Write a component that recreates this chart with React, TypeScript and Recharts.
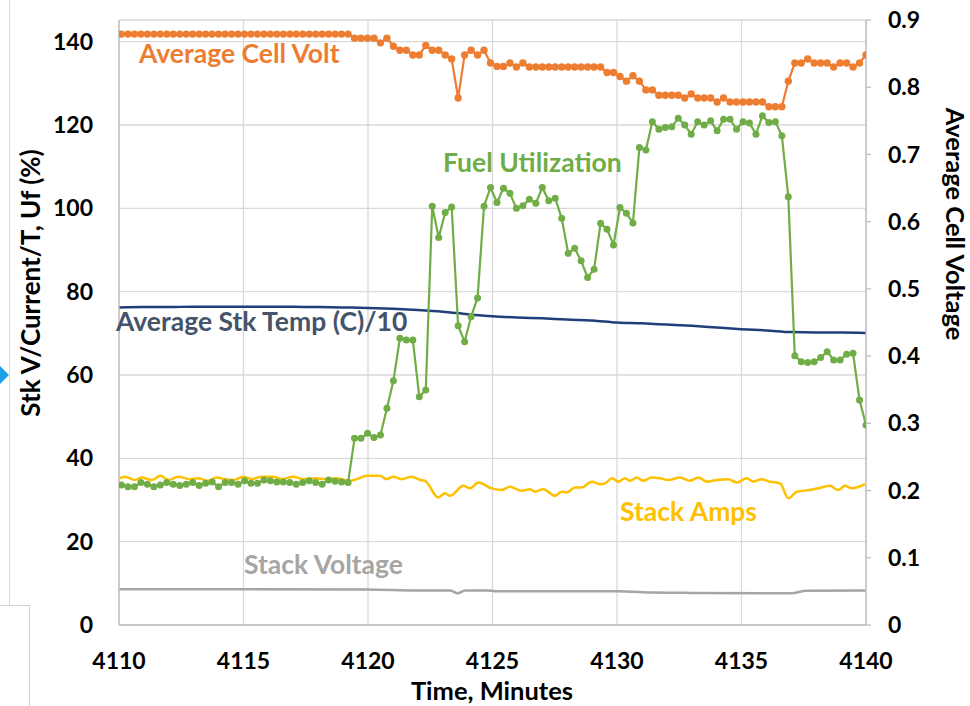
import { CartesianGrid, Line, LineChart, XAxis, YAxis } from "recharts";

// sample clock of the logger (every ~0.26 min)
const T_START = 4110.1;
const T_STEP = 0.26;

const FUEL_UTIL = [
  33.6, 33.2, 33.2, 34.2, 33.8, 33.2, 33.6, 34.2, 33.8, 33.5, 33.8, 34.2,
  33.5, 34.0, 34.3, 33.2, 34.2, 34.2, 33.8, 34.6, 34.0, 34.0, 34.8, 34.6,
  34.3, 34.3, 34.2, 33.8, 34.2, 34.6, 34.2, 33.8, 34.8, 34.5, 34.3, 34.2,
  44.8, 44.8, 46.0, 45.0, 45.6, 52.0, 58.6, 68.8, 68.4, 68.4, 54.8, 56.4,
  100.5, 93.0, 99.0, 100.3, 71.8, 68.0, 74.0, 78.5, 100.5,
  105.0, 101.4, 104.8, 103.6, 100.0, 100.6, 102.2, 101.2, 105.0, 101.8, 102.4,
  97.6, 89.2, 90.4, 87.4, 83.4, 85.4, 96.4, 95.0, 91.2, 100.2, 98.8, 96.5,
  114.6, 114.0,
  120.8, 119.0, 119.4, 119.6, 121.6, 120.0, 117.8, 120.8, 120.0, 121.0, 118.6,
  121.4, 121.4, 119.0, 120.8, 120.5, 117.8, 122.2, 120.6, 120.8, 117.4, 102.8,
  64.6, 63.2, 63.0, 63.2, 64.2, 65.6, 63.6, 63.6, 65.0, 65.2, 54.0, 48.0,
];

const CELL_VOLT = [
  0.879, 0.879, 0.879, 0.879, 0.879, 0.879, 0.879, 0.879, 0.879, 0.879, 0.879, 0.879,
  0.879, 0.879, 0.879, 0.879, 0.879, 0.879, 0.879, 0.879, 0.879, 0.879, 0.879, 0.879,
  0.879, 0.879, 0.879, 0.879, 0.879, 0.879, 0.879, 0.879, 0.879, 0.879, 0.879, 0.879,
  0.873, 0.873, 0.873, 0.873, 0.866, 0.873, 0.861, 0.855, 0.855, 0.848, 0.848, 0.862,
  0.855, 0.855, 0.848, 0.842, 0.784, 0.848, 0.855, 0.848, 0.855, 0.836, 0.831, 0.831,
  0.836, 0.83, 0.836,
  0.83, 0.83, 0.83, 0.83, 0.83, 0.83, 0.83, 0.83, 0.83, 0.83, 0.83, 0.83,
  0.822, 0.822, 0.816, 0.809, 0.817, 0.809, 0.796, 0.796,
  0.788, 0.788, 0.788, 0.788, 0.784, 0.79, 0.784, 0.784, 0.784, 0.778, 0.784,
  0.778, 0.778, 0.778, 0.778, 0.778, 0.778, 0.771, 0.771, 0.771,
  0.809, 0.836, 0.836, 0.842, 0.836, 0.836, 0.836, 0.83, 0.836, 0.836, 0.83, 0.836, 0.848,
];

const TEMP_T = [
  4110, 4111, 4112, 4113, 4114, 4115, 4116, 4117, 4118, 4119, 4120, 4121, 4122,
  4123, 4124, 4125, 4126, 4127, 4128, 4129, 4130, 4131, 4132, 4133, 4134, 4135,
  4136, 4137, 4138, 4139, 4140,
];
const TEMP_V = [
  76.2, 76.3, 76.3, 76.4, 76.4, 76.4, 76.4, 76.4, 76.3, 76.2, 76.1, 75.9, 75.6,
  75.2, 74.6, 74.1, 73.8, 73.6, 73.3, 73.1, 72.6, 72.4, 72.1, 71.8, 71.4, 71.0,
  70.7, 70.3, 70.2, 70.2, 70.1,
];

const AMPS_T = [
  4110.0, 4110.24, 4110.64, 4110.91, 4111.31, 4111.67, 4111.98, 4112.38, 4112.85,
  4113.18, 4113.59, 4113.92, 4114.26, 4114.59, 4114.99, 4115.33, 4115.73, 4116.2,
  4116.53, 4117.0, 4117.4, 4117.87, 4118.34, 4118.74, 4119.28, 4119.55, 4119.95,
  4120.48, 4120.75, 4121.02, 4121.35, 4121.76, 4122.09, 4122.29, 4122.82, 4123.09,
  4123.29, 4123.83, 4124.1, 4124.43, 4124.97, 4125.37, 4125.7, 4126.17, 4126.51,
  4126.71, 4127.04, 4127.51, 4127.78, 4127.98, 4128.31, 4128.58, 4128.98, 4129.32,
  4129.52, 4129.81, 4130.05, 4130.32, 4130.52, 4130.79, 4131.06, 4131.39, 4131.73,
  4132.06, 4132.53, 4132.93, 4133.27, 4133.6, 4134.0, 4134.47, 4134.81, 4135.21,
  4135.47, 4135.81, 4136.14, 4136.55, 4136.88, 4137.22, 4137.75, 4138.08, 4138.55,
  4138.89, 4139.16, 4139.43, 4139.96,
];
const AMPS_V = [
  35.2, 35.6, 34.8, 35.4, 34.8, 35.8, 34.8, 35.6, 35.0,
  35.2, 34.6, 35.4, 35.0, 34.8, 35.6, 35.0, 35.6, 35.6,
  35.0, 35.6, 35.0, 35.2, 35.0, 35.2, 34.6, 35.0, 35.8,
  35.8, 35.0, 35.6, 35.0, 35.6, 34.8, 34.6, 30.6, 31.6,
  31.0, 33.4, 32.8, 34.2, 32.8, 32.4, 33.2, 32.2, 32.6,
  32.0, 32.6, 31.0, 32.0, 31.8, 33.0, 33.0, 34.4, 33.8,
  34.0, 35.2, 34.4, 35.2, 34.6, 35.4, 34.6, 35.4, 35.2,
  34.8, 35.4, 34.6, 35.4, 34.4, 34.8, 35.0, 34.2, 35.2,
  34.4, 35.0, 34.4, 34.0, 30.4, 32.0, 32.4, 32.8, 33.4,
  32.4, 33.4, 32.8, 33.8,
];

const STKV_T = [4110, 4115, 4120, 4122, 4123.3, 4123.6, 4123.9, 4124.8, 4125.1, 4130, 4131.5, 4133, 4137, 4137.6, 4140];
const STKV_V = [8.6, 8.6, 8.5, 8.3, 8.3, 7.6, 8.3, 8.3, 8.1, 8.1, 7.8, 7.7, 7.6, 8.2, 8.3];

const X_TICKS = [4110, 4115, 4120, 4125, 4130, 4135, 4140];
const LEFT_TICKS = [0, 20, 40, 60, 80, 100, 120, 140];
const RIGHT_TICKS = [0, 0.1, 0.2, 0.3, 0.4, 0.5, 0.6, 0.7, 0.8, 0.9];

const mainRows = FUEL_UTIL.map((fu, i) => ({
  t: +(T_START + i * T_STEP).toFixed(2),
  fu,
  cv: CELL_VOLT[i],
}));
const tempRows = TEMP_T.map((t, i) => ({ t, temp: TEMP_V[i] }));
const ampsRows = AMPS_T.map((t, i) => ({ t, amps: AMPS_V[i] }));
const stkvRows = STKV_T.map((t, i) => ({ t, stkv: STKV_V[i] }));

const FONT = "Lato, 'Open Sans', sans-serif";
const tickStyle = { fontSize: 23, fontWeight: 700, fill: "#000", fontFamily: FONT };

export default function App() {
  return (
    <div
      style={{
        position: "absolute",
        left: 0,
        top: 0,
        width: 970,
        height: 706,
        background: "#fff",
        overflow: "hidden",
      }}
    >
      {/* bits of the surrounding page caught in the screenshot */}
      <div style={{ position: "absolute", left: 9, top: 0, width: 1, height: 605, background: "#d9d9d9" }} />
      <div
        style={{
          position: "absolute",
          left: -1,
          top: 605,
          width: 29,
          height: 110,
          border: "1px solid #d0d0d0",
        }}
      />
      <svg width={10} height={30} style={{ position: "absolute", left: 0, top: 362 }}>
        <polygon points="0,4 9,13 0,22" fill="#1ea0e6" />
      </svg>

      <LineChart
        width={970}
        height={706}
        data={mainRows}
        margin={{ top: 20, right: 0, bottom: 0, left: 0 }}
        style={{ position: "absolute", left: 0, top: 0 }}
      >
        <CartesianGrid yAxisId="left" stroke="#d9d9d9" strokeWidth={1.3} />
        <XAxis
          type="number"
          dataKey="t"
          domain={[4110, 4140]}
          ticks={X_TICKS}
          allowDataOverflow
          height={81}
          tickSize={0}
          tickMargin={28}
          tick={tickStyle}
          axisLine={{ stroke: "#bfbfbf", strokeWidth: 1.3 }}
          tickLine={false}
        />
        <YAxis
          yAxisId="left"
          width={119}
          domain={[0, 145.2]}
          ticks={LEFT_TICKS}
          allowDataOverflow
          tickSize={6}
          tickMargin={20}
          tick={tickStyle}
          axisLine={{ stroke: "#bfbfbf", strokeWidth: 1.3 }}
          tickLine={false}
        />
        <YAxis
          yAxisId="right"
          orientation="right"
          width={104}
          domain={[0, 0.9]}
          ticks={RIGHT_TICKS}
          allowDataOverflow
          tickSize={5}
          tickMargin={17}
          tick={tickStyle}
          axisLine={{ stroke: "#bfbfbf", strokeWidth: 1.3 }}
          tickLine={{ stroke: "#bfbfbf", strokeWidth: 1.3 }}
        />
        <Line
          yAxisId="left"
          data={stkvRows}
          dataKey="stkv"
          type="monotone"
          stroke="#a5a5a5"
          strokeWidth={2.5}
          dot={false}
          isAnimationActive={false}
        />
        <Line
          yAxisId="left"
          data={ampsRows}
          dataKey="amps"
          type="monotone"
          stroke="#ffc000"
          strokeWidth={2.5}
          dot={false}
          isAnimationActive={false}
        />
        <Line
          yAxisId="left"
          data={tempRows}
          dataKey="temp"
          type="monotone"
          stroke="#203f7a"
          strokeWidth={2.5}
          dot={false}
          isAnimationActive={false}
        />
        <Line
          yAxisId="left"
          dataKey="fu"
          type="linear"
          stroke="#70ad47"
          strokeWidth={2.2}
          dot={{ r: 3.5, fill: "#70ad47", stroke: "none" }}
          isAnimationActive={false}
        />
        <Line
          yAxisId="right"
          dataKey="cv"
          type="linear"
          stroke="#ed7d31"
          strokeWidth={2.2}
          dot={{ r: 3.7, fill: "#ed7d31", stroke: "none" }}
          isAnimationActive={false}
        />
      </LineChart>

      <svg
        width={970}
        height={706}
        style={{ position: "absolute", left: 0, top: 0, pointerEvents: "none" }}
        fontFamily={FONT}
        fontWeight={700}
      >
        <text x={139} y={63} fontSize={26.5} fill="#ed7d31">Average Cell Volt</text>
        <text x={443} y={172} fontSize={26.5} fill="#70ad47">Fuel Utilization</text>
        <text x={116} y={331} fontSize={26.5} fill="#44546a">Average Stk Temp (C)/10</text>
        <text x={620} y={521} fontSize={26.5} fill="#ffc000">Stack Amps</text>
        <text x={244} y={574} fontSize={26.5} fill="#a5a5a5">Stack Voltage</text>
        <text
          x={0}
          y={0}
          fontSize={26}
          fill="#000"
          textAnchor="middle"
          transform="translate(40 283) rotate(-90)"
        >
          Stk V/Current/T,  Uf (%)
        </text>
        <text
          x={0}
          y={0}
          fontSize={25.5}
          fill="#000"
          textAnchor="middle"
          transform="translate(946 224) rotate(90)"
        >
          Average Cell Voltage
        </text>
        <text x={492} y={700} fontSize={25.5} fill="#000" textAnchor="middle">
          Time, Minutes
        </text>
      </svg>
    </div>
  );
}
